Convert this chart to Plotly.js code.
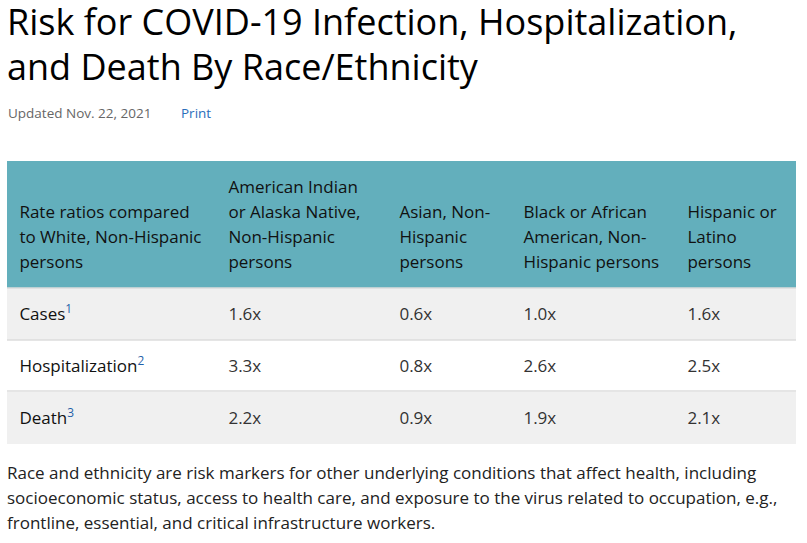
<!DOCTYPE html>
<html>
<head>
<meta charset="utf-8">
<script src="https://cdn.plot.ly/plotly-3.0.1.min.js"></script>
<style>
html,body{margin:0;padding:0;background:#fff;}
#chart{width:807px;height:543px;}
</style>
</head>
<body>
<div id="chart"></div>
<script>
// ---- data ----
var titleLines = ["Risk for COVID-19 Infection, Hospitalization,", "and Death By Race/Ethnicity"];
var updatedText = "Updated Nov. 22, 2021";
var printText = "Print";
var cornerHeader = ["Rate ratios compared", "to White, Non-Hispanic", "persons"];
var groupHeaders = [
  ["American Indian", "or Alaska Native,", "Non-Hispanic", "persons"],
  ["Asian, Non-", "Hispanic", "persons"],
  ["Black or African", "American, Non-", "Hispanic persons"],
  ["Hispanic or", "Latino", "persons"]
];
var metrics = ["Cases", "Hospitalization", "Death"];
var footnotes = ["1", "2", "3"];
var aian = [1.6, 3.3, 2.2];
var asian = [0.6, 0.8, 0.9];
var black = [1.0, 2.6, 1.9];
var hispanic = [1.6, 2.5, 2.1];
var footerLines = [
  "Race and ethnicity are risk markers for other underlying conditions that affect health, including",
  "socioeconomic status, access to health care, and exposure to the virus related to occupation, e.g.,",
  "frontline, essential, and critical infrastructure workers."
];

// ---- build ----
var W = 807, H = 543;
var NB = "\u00a0";
var TXT = 17;             // visible text size
var maxLines = 4;
var headerColor = "#63afbc";
function sized(s) { return '<span style="font-size:' + TXT + 'px">' + s + '</span>'; }
function headerCell(lines) {
  var pad = [];
  for (var i = lines.length; i < maxLines; i++) pad.push(sized(NB));
  return pad.concat(lines.map(function (l) { return sized(NB + l); })).join("<br>");
}
var headerValues = [headerCell(cornerHeader)].concat(groupHeaders.map(headerCell));
// a tiny leading spacer line centres the body text vertically in its row
var labelCol = metrics.map(function (m, i) {
  return NB + "<br>" + sized(NB + m + '<span style="color:#1f5fa8"><sup>' + footnotes[i] + '</sup></span>');
});
function fmt(arr) { return arr.map(function (v) { return NB + "<br>" + sized(NB + v.toFixed(1) + "x"); }); }
var cellValues = [labelCol, fmt(aian), fmt(asian), fmt(black), fmt(hispanic)];

var rowFill = ["#f0f0f0", "#ffffff", "#f0f0f0"];
var nCols = cellValues.length;
var fills = [];
for (var c = 0; c < nCols; c++) fills.push(rowFill);

var boxTop = 161, tableTop = 167, tableLeft = 7, tableRight = 796;
var trace = {
  type: "table",
  domain: { x: [tableLeft / W, tableRight / W], y: [0, 1 - tableTop / H] },
  columnwidth: [209, 171, 124, 164, 121],
  header: {
    values: headerValues,
    align: "left",
    height: 121,
    fill: { color: headerColor },
    line: { width: 0, color: headerColor },
    font: { family: "Open Sans", size: 19.2, color: "#111111" }
  },
  cells: {
    values: cellValues,
    align: "left",
    height: 52,
    fill: { color: fills },
    line: { width: 0, color: "#ffffff" },
    font: { family: "Open Sans", size: 10.2, color: [["#111111"], ["#333333"], ["#333333"], ["#333333"], ["#333333"]] }
  }
};

var sepY = [288, 340, 391];
var shapes = sepY.map(function (y) {
  return {
    type: "line", xref: "paper", yref: "paper",
    x0: tableLeft / W, x1: tableRight / W, y0: 1 - y / H, y1: 1 - y / H,
    line: { color: "#dddddd", width: 1.5 }, layer: "above"
  };
});
// top padding strip of the header band
shapes.push({
  type: "rect", xref: "paper", yref: "paper",
  x0: tableLeft / W, x1: tableRight / W, y0: 1 - (tableTop + 0.5) / H, y1: 1 - boxTop / H,
  fillcolor: headerColor, line: { width: 0 }, layer: "above"
});

var annotations = [];
var titleY = [21, 66];
titleLines.forEach(function (t, i) {
  annotations.push({
    xref: "paper", yref: "paper", x: 5 / W, y: 1 - titleY[i] / H,
    xanchor: "left", yanchor: "middle", showarrow: false, text: t,
    font: { family: "Open Sans", size: 36, color: "#000000" }
  });
});
annotations.push({
  xref: "paper", yref: "paper", x: 6 / W, y: 1 - 113 / H,
  xanchor: "left", yanchor: "middle", showarrow: false, text: updatedText,
  font: { family: "Open Sans", size: 13.5, color: "#666666" }
});
annotations.push({
  xref: "paper", yref: "paper", x: 179 / W, y: 1 - 113 / H,
  xanchor: "left", yanchor: "middle", showarrow: false, text: printText,
  font: { family: "Open Sans", size: 13.5, color: "#2a6ebb" }
});
var footY = [472, 497, 522];
footerLines.forEach(function (t, i) {
  annotations.push({
    xref: "paper", yref: "paper", x: 5 / W, y: 1 - footY[i] / H,
    xanchor: "left", yanchor: "middle", showarrow: false, text: t,
    font: { family: "Open Sans", size: 17, color: "#222222" }
  });
});

var layout = {
  width: W, height: H,
  margin: { l: 0, r: 0, t: 0, b: 0 },
  paper_bgcolor: "#ffffff",
  showlegend: false,
  shapes: shapes,
  annotations: annotations
};
Plotly.newPlot("chart", [trace], layout, { displayModeBar: false, staticPlot: true });
</script>
</body>
</html>
